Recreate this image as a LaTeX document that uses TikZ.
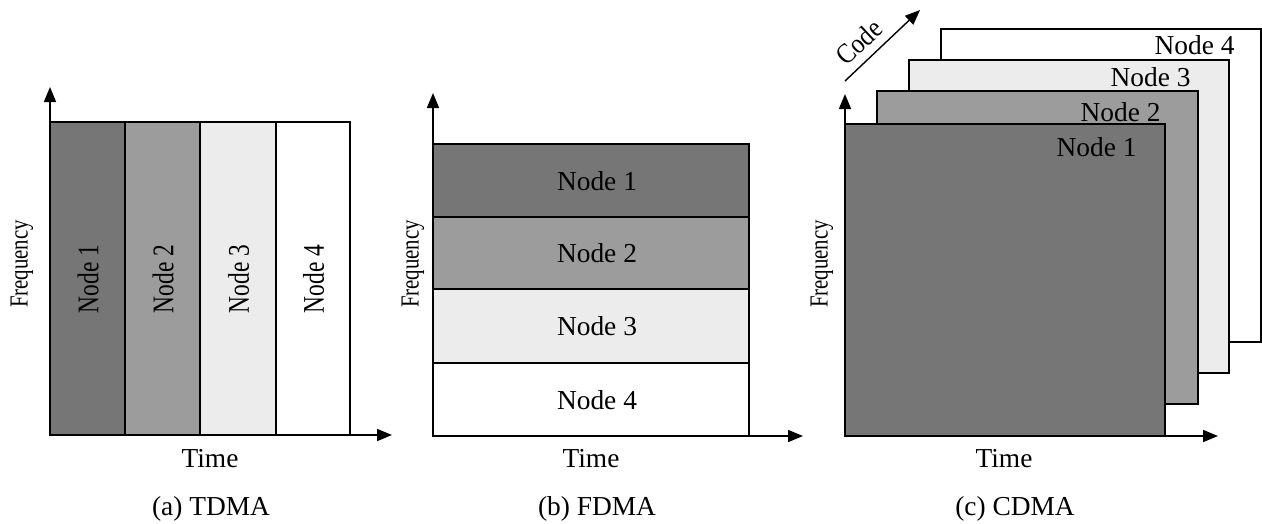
\documentclass[tikz,border=0pt]{standalone}
\usepackage{fontspec}
\setmainfont{Liberation Serif}
\usetikzlibrary{arrows.meta}
\definecolor{shadeA}{RGB}{118,118,118}
\definecolor{shadeB}{RGB}{156,156,156}
\definecolor{shadeC}{RGB}{236,236,236}
\definecolor{shadeD}{RGB}{255,255,255}
% narrow, tall lettering for the rotated labels
\newcommand{\tallrot}[3]{\scalebox{#1}[1]{\fontsize{#2}{#2}\selectfont #3}}
\tikzset{
  axis/.style={line width=1.6pt,-{Triangle[length=15pt,width=12pt]}},
  slot/.style={draw=black,line width=1.4pt},
  big/.style={font=\fontsize{27.4}{30}\selectfont},
  vert/.style={rotate=90,inner sep=0pt},
}
\begin{document}
\begin{tikzpicture}[x=1pt,y=-1pt]
\useasboundingbox (0,0) rectangle (1262,523);

% ---------- (a) TDMA ----------
\coordinate (ao) at (50,435);
\coordinate (ay) at (50,87);
\coordinate (ax) at (392,435);
\filldraw[slot,fill=shadeA] (50,122) rectangle (125,435);
\filldraw[slot,fill=shadeB] (125,122) rectangle (200,435);
\filldraw[slot,fill=shadeC] (200,122) rectangle (276,435);
\filldraw[slot,fill=shadeD] (276,122) rectangle (350,435);
\node[vert] (a1) at (88,279) {\tallrot{0.78}{30}{Node 1}};
\node[vert] (a2) at (163,279) {\tallrot{0.78}{30}{Node 2}};
\node[vert] (a3) at (238.5,279) {\tallrot{0.78}{30}{Node 3}};
\node[vert] (a4) at (313.5,279) {\tallrot{0.78}{30}{Node 4}};
\draw[axis] (ao) -- (ay);
\draw[axis] (ao) -- (ax);
\node[vert] (af) at (22,264) {\tallrot{0.8}{26}{Frequency}};
\node[big,anchor=base] (at) at (210,467) {Time};
\node[big,anchor=base] (ac) at (211,515) {(a) TDMA};

% ---------- (b) FDMA ----------
\coordinate (bo) at (433,436);
\coordinate (by) at (433,93);
\coordinate (bx) at (803,436);
\filldraw[slot,fill=shadeA] (433,144) rectangle (749,217);
\filldraw[slot,fill=shadeB] (433,217) rectangle (749,289);
\filldraw[slot,fill=shadeC] (433,289) rectangle (749,363);
\filldraw[slot,fill=shadeD] (433,363) rectangle (749,436);
\node[big] (b1) at (597,181) {Node 1};
\node[big] (b2) at (597,253) {Node 2};
\node[big] (b3) at (597,326) {Node 3};
\node[big] (b4) at (597,400) {Node 4};
\draw[axis] (bo) -- (by);
\draw[axis] (bo) -- (bx);
\node[vert] (bf) at (413,264) {\tallrot{0.8}{26}{Frequency}};
\node[big,anchor=base] (bt) at (591,467) {Time};
\node[big,anchor=base] (bc) at (597,515) {(b) FDMA};

% ---------- (c) CDMA ----------
\coordinate (co) at (845,436);
\coordinate (cy) at (845,94);
\coordinate (cx) at (1218,436);
\coordinate (cs) at (845,81);
\coordinate (ce) at (920,10);
\filldraw[slot,fill=shadeD] (941,29) rectangle (1261,342);
\filldraw[slot,fill=shadeC] (909,60) rectangle (1229,373);
\filldraw[slot,fill=shadeB] (877,91) rectangle (1198,404);
\filldraw[slot,fill=shadeA] (845,124) rectangle (1165,436);
\node[big,anchor=east] (c4) at (1238,45) {Node 4};
\node[big,anchor=east] (c3) at (1194,77) {Node 3};
\node[big,anchor=east] (c2) at (1164,112) {Node 2};
\node[big,anchor=east] (c1) at (1140,147) {Node 1};
\draw[axis] (co) -- (cy);
\draw[axis] (co) -- (cx);
\draw[axis,line width=1.4pt] (cs) -- (ce);
\node[rotate=43,inner sep=0pt] (ck) at (859,42) {\tallrot{0.88}{28}{Code}};
\node[vert] (cf) at (822,264) {\tallrot{0.8}{26}{Frequency}};
\node[big,anchor=base] (ct) at (1004,467) {Time};
\node[big,anchor=base] (cc) at (1015,515) {(c) CDMA};
\end{tikzpicture}
\end{document}
